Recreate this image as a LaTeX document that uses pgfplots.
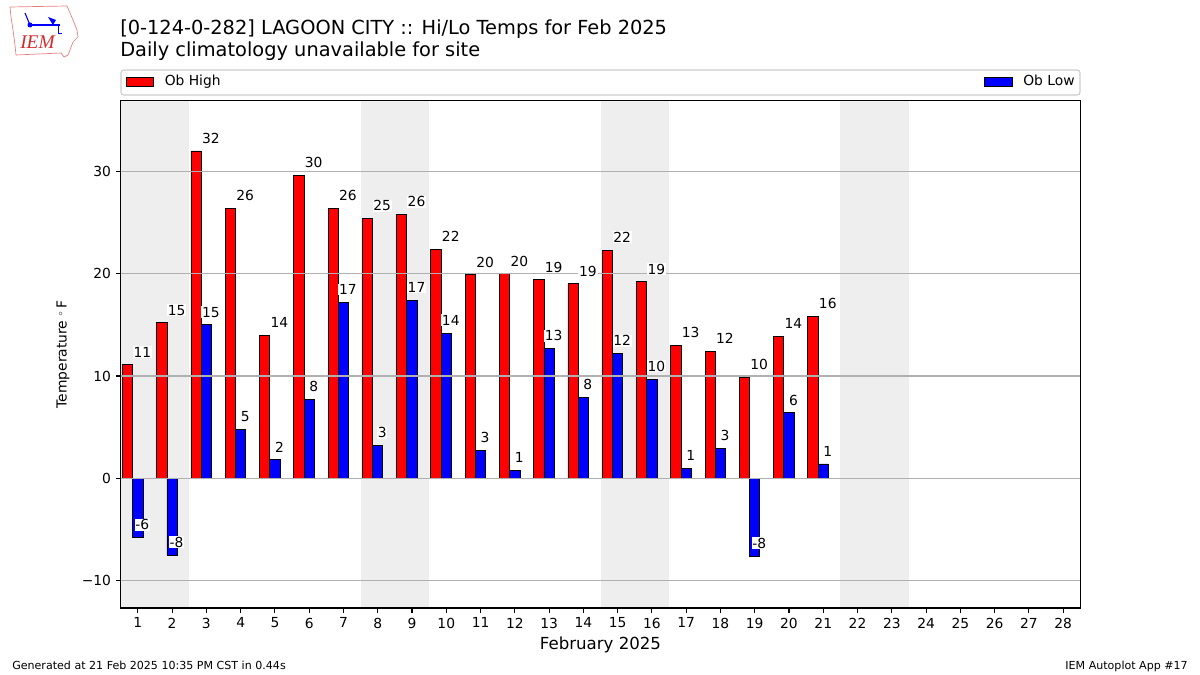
\documentclass[border=0pt]{standalone}
\usepackage{pgfplots}
\pgfplotsset{compat=1.18}
\usepackage{fontspec}
\setmainfont{DejaVu Sans}
\newfontfamily\logofont{Liberation Serif}
\definecolor{wkend}{HTML}{EEEEEE}
\definecolor{gridc}{HTML}{B0B0B0}
\definecolor{iemred}{HTML}{D42A2A}
\definecolor{legbord}{HTML}{CCCCCC}
\begin{document}
\begin{tikzpicture}[x=1in,y=1in]
\path[use as bounding box] (0,0) rectangle (12,6.75);
% logo (approximate)
\draw[iemred!60, line width=0.5pt] (0.10,6.68) -- (0.67,6.69) -- (0.70,6.62) -- (0.73,6.55) -- (0.77,6.45) -- (0.78,6.38) -- (0.73,6.33) -- (0.70,6.25) -- (0.68,6.20) -- (0.64,6.18) -- (0.61,6.22) -- (0.16,6.20) -- (0.15,6.30) -- (0.13,6.45) -- (0.11,6.58) -- cycle;
\draw[blue, line width=0.8pt] (0.30,6.50) -- (0.60,6.50);
\fill[blue] (0.30,6.50) circle (0.025);
\draw[blue, line width=0.8pt] (0.25,6.62) -- (0.30,6.50);
\fill[blue] (0.48,6.58) -- (0.56,6.55) -- (0.53,6.50) -- cycle;
\draw[blue, line width=0.6pt] (0.58,6.50) -- (0.58,6.42) -- (0.62,6.42);
\node[anchor=base west, text=iemred, font=\fontsize{14}{15}\selectfont\logofont\itshape, inner sep=0] at (0.20,6.26) {IEM};
% titles
\node[anchor=base west, inner sep=0, font=\fontsize{14}{16}\selectfont] at (1.20,6.40) {[0-124-0-282] LAGOON CITY :: Hi/Lo Temps for Feb 2025};
\node[anchor=base west, inner sep=0, font=\fontsize{14}{16}\selectfont] at (1.20,6.185) {Daily climatology unavailable for site};
% footer
\node[anchor=base west, inner sep=0, font=\fontsize{8}{10}\selectfont] at (0.12,0.06) {Generated at 21 Feb 2025 10:35 PM CST in 0.44s};
\node[anchor=base east, inner sep=0, font=\fontsize{8}{10}\selectfont] at (11.88,0.06) {IEM Autoplot App \#17};
% legend box
\draw[legbord, line width=0.8pt, fill=white, rounded corners=2pt] (1.21,5.80) rectangle (10.80,6.05);
\filldraw[fill=red, draw=black, line width=0.5pt] (1.26,5.89) rectangle (1.535,5.975);
\node[anchor=base west, inner sep=0, font=\fontsize{10}{12}\selectfont] at (1.645,5.89) {Ob High};
\filldraw[fill=blue, draw=black, line width=0.5pt] (9.84,5.89) rectangle (10.12,5.975);
\node[anchor=base west, inner sep=0, font=\fontsize{10}{12}\selectfont] at (10.23,5.89) {Ob Low};
\begin{axis}[
  at={(1.207in,0.67in)}, anchor=south west, scale only axis,
  width=9.596in, height=5.073in,
  xmin=0.5, xmax=28.5, ymin=-12.68, ymax=36.91,
  xtick={1,...,28}, ytick={-10,0,10,20,30},
  yticklabels={−10,0,10,20,30},
  tick align=outside, xtick pos=bottom, ytick pos=left,
  major tick length=3.5pt,
  every tick/.style={black, line width=0.8pt},
  axis line style={line width=0.8pt},
  ymajorgrids, grid style={gridc, line width=0.8pt},
  axis on top,
  tick label style={font=\fontsize{10}{12}\selectfont},
  /pgf/number format/assume math mode=true,
  ylabel={Temperature {\scriptsize$^\circ$}\,F},
  ylabel style={at={(axis description cs:-0.0601,0.5)}, anchor=center, font=\fontsize{10}{12}\selectfont},
  xlabel={February 2025},
  xlabel style={at={(axis description cs:0.5,-0.073)}, anchor=center, font=\fontsize{12}{14}\selectfont},
]
\fill[wkend] (axis cs:0.5,-12.68) rectangle (axis cs:2.5,36.91);
\fill[wkend] (axis cs:7.5,-12.68) rectangle (axis cs:9.5,36.91);
\fill[wkend] (axis cs:14.5,-12.68) rectangle (axis cs:16.5,36.91);
\fill[wkend] (axis cs:21.5,-12.68) rectangle (axis cs:23.5,36.91);
\addplot[ybar, bar width=0.3, bar shift=-0.3, fill=red, draw=black, line width=0.6pt,
  point meta=y,
  nodes near coords={\pgfmathprintnumber[fixed,precision=0]{\pgfplotspointmeta}},
  every node near coord/.append style={anchor=center, xshift=0.045in, yshift=0.127in, fill=white, inner sep=0.6pt, text=black, font=\fontsize{10}{12}\selectfont, /pgf/number format/assume math mode=true}]
coordinates {
(1,11.1) (2,15.2) (3,32.0) (4,26.4) (5,14.0) (6,29.6) (7,26.4)
(8,25.4) (9,25.8) (10,22.4) (11,19.9) (12,20.0) (13,19.4) (14,19.0)
(15,22.3) (16,19.2) (17,13.0) (18,12.4) (19,9.9) (20,13.9) (21,15.8)
};
\addplot[ybar, bar width=0.3, bar shift=0, fill=blue, draw=black, line width=0.6pt,
  point meta=y,
  nodes near coords={\pgfmathprintnumber[fixed,precision=0]{\pgfplotspointmeta}},
  every node near coord/.append style={anchor=center, xshift=0.045in, yshift=0.127in, fill=white, inner sep=0.6pt, text=black, font=\fontsize{10}{12}\selectfont, /pgf/number format/assume math mode=true}]
coordinates {
(1,-5.8) (2,-7.5) (3,15.0) (4,4.8) (5,1.8) (6,7.7) (7,17.2)
(8,3.2) (9,17.4) (10,14.2) (11,2.7) (12,0.8) (13,12.7) (14,7.9)
(15,12.2) (16,9.7) (17,1.0) (18,2.9) (19,-7.6) (20,6.4) (21,1.4)
};
\end{axis}
\end{tikzpicture}
\end{document}
